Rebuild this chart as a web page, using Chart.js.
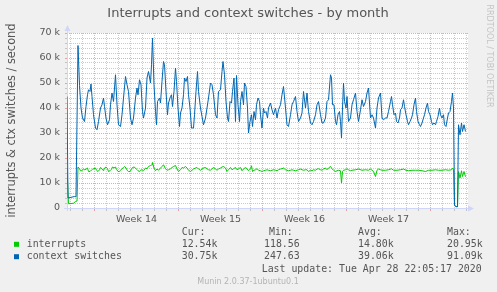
<!DOCTYPE html>
<html>
<head>
<meta charset="utf-8">
<script src="https://cdn.jsdelivr.net/npm/chart.js@4.4.1/dist/chart.umd.min.js"></script>
<style>
  html, body { margin: 0; padding: 0; background: #f0f0f0; }
  #wrap { position: relative; width: 497px; height: 292px; }
</style>
</head>
<body>
<div id="wrap"><canvas id="chart" width="497" height="292"></canvas></div>
<script>
// hours since the left edge of the graph, values in thousands per second
var irqHours = [
  0,3,13,17,20,22,25,27,30,33,
  35,38,41,43,46,49,51,54,57,59,
  62,65,67,70,73,75,78,81,83,86,
  89,91,94,97,99,102,105,107,110,113,
  115,118,121,123,126,129,131,134,137,139,
  142,145,147,150,153,157,160,163,167,170,
  171,174,177,180,183,187,190,193,197,200,
  203,207,210,213,217,220,223,227,230,233,
  237,240,243,247,250,253,257,260,263,267,
  270,273,277,280,283,287,290,293,297,300,
  303,307,310,313,317,320,323,327,330,333,
  337,340,343,347,350,353,357,360,363,367,
  369,371,374,377,380,383,387,390,393,397,
  400,403,407,410,413,417,420,423,427,430,
  433,437,440,443,447,450,453,457,460,463,
  467,470,473,477,480,483,487,490,493,497,
  500,503,507,510,513,517,520,523,527,530,
  533,537,540,543,547,549,551,553,557,560,
  563,567,570,577,583,590,597,603,607,610,
  613,617,620,623,627,630,637,643,649,653,
  660,667,673,678,683,690,697,703,710,717,
  723,730,737,743,750,757,763,769,771,773,
  775,778,781,783,786,789,791,794,797
];
var irqValues = [
  16,1.7,1.9,2.6,2.8,16.4,15.7,14.9,14.9,15.7,
  15.3,15.5,16,14.6,14.6,15.2,15.5,15.7,16,15.1,
  14.6,15.3,16.2,15.7,14.9,16,16.4,15.7,14.6,14.9,
  15.5,16.4,16,16.4,15.5,14.6,14.6,15.1,15.7,16.2,
  16.6,16,14.9,14.6,14.6,15.5,16.2,16.4,16,15.5,
  14.9,14.6,15.1,15.3,14.9,16,15.7,16.6,17,17.3,
  18.2,16,14.9,15.6,15.1,16,16.6,17.3,15.7,15.1,
  15.3,15.7,16.2,16.6,17,15.6,14.6,15.3,16.2,16,
  16.6,16,15.1,14.6,15.1,15.6,16,16.2,15.6,15.1,
  15.6,16,16.2,15.7,15.3,15.1,15.7,16.2,15.6,15.1,
  15.6,16,16.4,16.6,16,14.6,15.3,16.2,15.3,15.7,
  16.2,15.3,15.7,16.2,14.9,15.6,16.2,15.7,14.9,15.7,
  16.9,14.6,15.1,15.3,15.7,15.1,14.9,14.6,14.9,15.1,
  15.3,15.1,14.9,15.1,15.3,15.1,14.9,15.3,15.6,15.7,
  16,15.3,15.1,14.9,15.1,15.3,15.1,14.9,15.1,15.3,
  15.6,15.3,15.1,15.3,15.3,14.6,15.1,14.9,15.3,15.1,
  15.6,15.7,15.3,15.1,15.6,16,15.3,16,16.6,15.7,
  15.1,14.6,14.9,15.1,14.9,10,14.6,15.1,15.3,15.7,
  15.3,14.9,15.1,15.3,15.6,15.1,15.3,15.1,15.6,15.1,
  14.6,12.6,15.1,15.6,15.3,15.1,15.1,15.3,15.7,15.1,
  15.1,15.3,15.6,15.1,14.9,15.1,15.1,15.1,14.9,14.6,
  15.1,15.1,15.3,15.1,15.1,15.3,15.1,15.3,16,15.3,
  1.3,0.6,0.6,14.6,12,14.9,12.6,14.6,12.5
];
var ctxHours = [
  0,2,15,18,22,25,28,31,35,38,
  41,43,46,48,50,53,57,60,63,67,
  70,73,75,78,81,85,87,90,93,97,
  100,103,107,110,113,117,120,123,127,130,
  133,137,140,142,145,148,151,153,157,160,
  163,167,169,171,174,177,179,181,185,187,
  190,193,195,198,201,203,207,209,211,214,
  217,219,222,225,227,230,233,235,238,241,
  243,246,249,253,255,258,261,263,267,270,
  273,277,280,283,287,290,293,297,300,303,
  307,310,312,315,318,321,323,326,329,331,
  334,337,339,342,345,347,350,353,355,358,
  361,363,366,369,371,374,377,379,382,385,
  387,390,393,395,398,401,403,407,410,413,
  417,420,423,427,430,433,437,440,443,447,
  450,453,457,460,463,467,470,473,477,480,
  483,487,490,493,497,500,503,507,510,513,
  517,520,523,527,529,531,534,537,539,542,
  545,547,549,551,553,555,558,560,563,567,
  570,573,577,580,583,587,590,593,597,600,
  603,607,610,613,617,620,623,627,630,633,
  637,640,643,647,649,651,654,657,659,662,
  665,667,670,673,675,678,681,683,686,689,
  691,694,697,699,702,705,707,710,713,715,
  718,721,723,726,729,731,734,737,739,742,
  745,747,750,753,755,758,761,763,766,769,
  771,773,775,778,781,783,786,789,791,794,
  797
];
var ctxValues = [
  44.6,4.0,4.6,4.5,65,49,40,36,34.6,40.6,
  45.3,47.3,46.6,49.6,44.6,37.3,32,31.3,34.6,40,
  41.3,44,40.6,36,33.3,35.3,41.3,46,42.6,53.3,
  41.3,33.3,32.6,37.3,44,52.6,49.3,46.6,36,33.3,
  36,44,48,45.3,51.3,49.3,38.6,36,40,52,
  54.6,50,57.3,68,49.3,38.6,33.3,42.6,44,42,
  50.6,58.6,57.3,46.6,37.3,42,44.6,45.3,40.6,46.6,
  56,50.6,40,32.6,38,40,45.3,52,50.6,52.6,
  45.3,40,32,32,37.3,46.6,54.6,46.6,40,36.6,
  33.3,36,40,44,50,49.3,45.3,37.3,36,46.6,
  47.3,54.6,58.6,53.3,42.6,36,34.6,42.6,42,46.6,
  52,34.6,53,41.3,34.6,42.6,46.6,41.3,50,48.6,
  40,30,34.6,37.3,32.6,38.6,35.3,41.3,44,42.6,
  37.3,32,40,38,38.6,36,40,42,39.3,37.3,
  40,36,39.3,41.3,45.3,48.6,40,33.3,32.6,37.3,
  41.3,42.6,44.6,38.6,34.6,36,38,46.6,40,46,
  38.6,34,33.3,34.6,37.3,41.3,42.6,37.3,34,34,
  36,42.6,43.3,53.3,52,41.3,41.3,34.6,33.3,37.3,
  38.6,34.6,28,40,50,42.6,40,44.6,34.6,36,
  41.3,43.3,46,38.6,34.6,39.3,43.3,40.6,42.6,46,
  48,36,37.3,36,32,40,44,46,36,35.3,
  36,36,38.6,42.6,44.6,41.3,37.3,38,34.6,34,
  36,39.3,40,43.3,40.6,37.3,34.6,33.3,34.6,36,
  37.3,41.3,44,38.6,34.6,33.3,32.6,34,36,37.3,
  40,42,38.6,37.3,34.6,33.3,34,33.3,34.6,36.6,
  40,37.3,36,37.3,33.3,32.6,36,38,38.6,42.6,
  46,40,1,0.5,0.5,33.3,29.3,34,30.6,33.3,
  30.6
];

var weekCenters = [139, 307, 475, 643];
var weekLabels = ['Week 14', 'Week 15', 'Week 16', 'Week 17'];
var weekStart = 55;          // first week boundary (red line), in hours
var dayStart = 7;            // first day boundary, in hours

var seriesNames = ['interrupts', 'context switches'];
var seriesColors = ['#00cc00', '#0066b3'];
var curText = ['12.54k', '30.75k'];
var minText = ['118.56', '247.63'];
var avgText = ['14.80k', '39.06k'];
var maxText = ['20.95k', '91.09k'];
var lastUpdate = 'Last update: Tue Apr 28 22:05:17 2020';

var MAJOR = 'rgba(230,80,80,0.5)';
var MINOR = 'rgba(140,140,140,0.45)';
var AXIS = '#cfd6f8';
var TXT = '#555555';

var toPoints = (hours, vals) => hours.map((h, i) => ({ x: h, y: vals[i] }));

var xTicks = [];
for (var h = dayStart; h <= 802; h += 24) xTicks.push(h);
var xGridColor = (v) => {
  if (weekCenters.indexOf(v) >= 0) return 'rgba(0,0,0,0)';
  return ((v - weekStart) % 168 === 0) ? MAJOR : MINOR;
};

var muninDecor = {
  id: 'muninDecor',
  beforeDraw: (chart) => {
    var c = chart.ctx, a = chart.chartArea;
    c.save();
    c.fillStyle = '#f0f0f0';
    c.fillRect(0, 0, chart.width, chart.height);
    c.fillStyle = '#ffffff';
    c.fillRect(a.left, a.top, a.right - a.left, a.bottom - a.top);
    c.restore();
  },
  beforeDatasetsDraw: (chart) => {
    var c = chart.ctx, a = chart.chartArea;
    var yb = a.bottom + 0.5, xl = a.left + 0.5;
    c.save();
    c.strokeStyle = AXIS;
    c.fillStyle = AXIS;
    c.lineWidth = 1;
    c.beginPath();
    c.moveTo(a.left - 3, yb); c.lineTo(a.right, yb);
    c.moveTo(xl, a.bottom + 3); c.lineTo(xl, a.top - 3);
    c.stroke();
    c.beginPath();
    c.moveTo(a.right, yb - 3); c.lineTo(a.right + 6, yb); c.lineTo(a.right, yb + 3);
    c.closePath(); c.fill();
    c.beginPath();
    c.moveTo(xl - 3, a.top - 2); c.lineTo(xl, a.top - 8); c.lineTo(xl + 3, a.top - 2);
    c.closePath(); c.fill();
    c.restore();
  },
  afterDraw: (chart) => {
    var c = chart.ctx;
    c.save();
    c.textBaseline = 'middle';

    c.fillStyle = TXT;
    c.font = '13px "DejaVu Sans"';
    c.textAlign = 'center';
    c.fillText('Interrupts and context switches - by month', 248, 13.5);

    c.save();
    c.translate(489, 56);
    c.rotate(Math.PI / 2);
    c.font = '8px "DejaVu Sans"';
    c.fillStyle = '#c4c4c4';
    c.fillText('RRDTOOL / TOBI OETIKER', 0, 0);
    c.restore();

    c.textAlign = 'left';
    c.font = '9.9px "DejaVu Sans Mono"';
    c.fillStyle = TXT;
    c.fillText('Cur:', 181.7, 232.7);
    c.fillText('Min:', 269, 232.7);
    c.fillText('Avg:', 358, 232.7);
    c.fillText('Max:', 447, 232.7);
    var rows = [244.3, 256.7];
    seriesNames.forEach((name, i) => {
      c.fillStyle = seriesColors[i];
      c.fillRect(14, rows[i] - 2.5, 5, 5);
      c.fillStyle = TXT;
      c.fillText(name, 26.7, rows[i]);
      c.fillText(curText[i], 181.7, rows[i]);
      c.fillText(minText[i], 264, rows[i]);
      c.fillText(avgText[i], 358, rows[i]);
      c.fillText(maxText[i], 447, rows[i]);
    });
    c.fillText(lastUpdate, 261.7, 269);

    c.textAlign = 'center';
    c.font = '8px "DejaVu Sans"';
    c.fillStyle = '#b4b4b4';
    c.fillText('Munin 2.0.37-1ubuntu0.1', 248, 281.5);
    c.restore();
  }
};

Chart.defaults.font.family = '"DejaVu Sans"';

new Chart(document.getElementById('chart'), {
  type: 'line',
  data: {
    datasets: [
      {
        label: seriesNames[1],
        data: toPoints(ctxHours, ctxValues),
        borderColor: seriesColors[1],
        borderWidth: 1,
        pointRadius: 0,
        tension: 0,
        fill: false
      },
      {
        label: seriesNames[0],
        data: toPoints(irqHours, irqValues),
        borderColor: seriesColors[0],
        borderWidth: 1,
        pointRadius: 0,
        tension: 0,
        fill: false
      }
    ]
  },
  options: {
    responsive: false,
    animation: false,
    devicePixelRatio: 1,
    layout: { padding: { top: 33, right: 29, bottom: 64, left: 0 } },
    plugins: {
      legend: { display: false },
      tooltip: { enabled: false },
      title: { display: false }
    },
    scales: {
      x: {
        type: 'linear',
        min: 0,
        max: 802,
        afterBuildTicks: (s) => {
          s.ticks = xTicks.concat(weekCenters).sort((p, q) => p - q).map((v) => ({ value: v }));
        },
        afterFit: (s) => { s.height = 20; },
        grid: {
          color: (ctx) => xGridColor(ctx.tick.value),
          tickColor: (ctx) => xGridColor(ctx.tick.value),
          lineWidth: 1,
          drawTicks: true,
          tickLength: 3
        },
        border: { display: false, dash: [1, 1] },
        ticks: {
          autoSkip: false,
          maxRotation: 0,
          padding: 3,
          color: TXT,
          font: { size: 9.5 },
          callback: (v) => {
            var k = weekCenters.indexOf(v);
            return k >= 0 ? weekLabels[k] : '';
          }
        }
      },
      y: {
        min: 0,
        max: 70,
        afterBuildTicks: (s) => {
          var t = [];
          for (var v = 0; v <= 70; v += 2) t.push({ value: v });
          s.ticks = t;
        },
        afterFit: (s) => { s.width = 67; },
        grid: {
          color: (ctx) => (ctx.tick.value % 10 === 0 ? MAJOR : MINOR),
          tickColor: (ctx) => (ctx.tick.value % 10 === 0 ? MAJOR : MINOR),
          lineWidth: 1,
          drawTicks: true,
          tickLength: 2
        },
        border: { display: false, dash: [1, 1] },
        ticks: {
          autoSkip: false,
          padding: 5,
          color: TXT,
          font: { size: 9.5 },
          callback: (v) => (v % 10 === 0 ? (v === 0 ? '0' : v + ' k') : '')
        },
        title: {
          display: true,
          text: 'interrupts & ctx switches / second',
          color: TXT,
          font: { size: 11.4 },
          padding: { top: 5, bottom: 0 }
        }
      }
    }
  },
  plugins: [muninDecor]
});
</script>
</body>
</html>
